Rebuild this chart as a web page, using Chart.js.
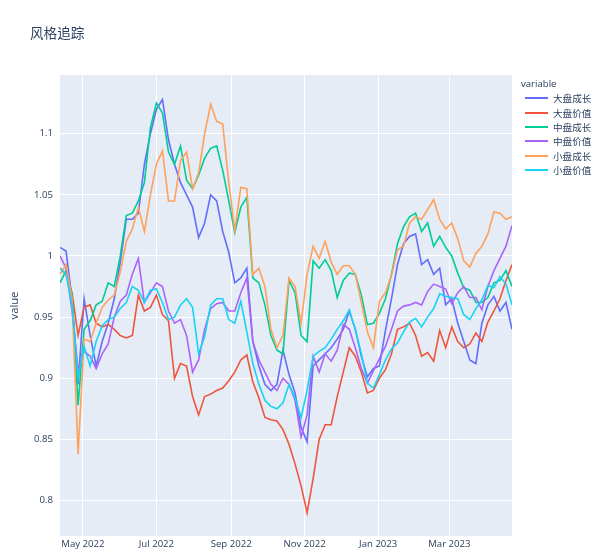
<!DOCTYPE html>
<html>
<head>
<meta charset="utf-8">
<title>风格追踪</title>
<script src="https://cdn.jsdelivr.net/npm/chart.js@4.4.1/dist/chart.umd.min.js"></script>
<style>
  body { margin: 0; background: #fff; }
  #wrap {
    position: relative;
    width: 600px;
    height: 553px;
    font-family: "Open Sans", "Noto Sans CJK SC", sans-serif;
    color: #2a3f5f;
  }
  #chart { position: absolute; left: 0; top: 0; }
  #title { position: absolute; left: 30px; top: 24px; font-size: 13.6px; line-height: 18px; }
  #legend { position: absolute; left: 521px; top: 77px; font-size: 9.6px; }
  .legend-title { height: 14.3px; line-height: 14.3px; }
  .legend-item { display: flex; align-items: center; height: 14.3px; }
  .legend-line { width: 23px; height: 2px; margin: 0 5px 0 4px; }
</style>
</head>
<body>
<div id="wrap">
  <canvas id="chart" width="600" height="553"></canvas>
  <div id="title">风格追踪</div>
  <div id="legend"></div>
</div>
<script>
// sampled every 5 days starting 2022-04-12
const DAY_STEP = 5;

const seriesNames = ["大盘成长", "大盘价值", "中盘成长", "中盘价值", "小盘成长", "小盘价值"];
const seriesColors = ["#636efa", "#EF553B", "#00cc96", "#ab63fa", "#FFA15A", "#19d3f3"];

const bigGrowth = [
  1.007, 1.004, 0.965, 0.895, 0.965, 0.935, 0.91, 0.93, 0.945, 0.965,
  0.995, 1.03, 1.03, 1.035, 1.075, 1.10, 1.12, 1.128, 1.095, 1.075,
  1.06, 1.05, 1.04, 1.015, 1.027, 1.05, 1.045, 1.02, 1.003, 0.978,
  0.982, 0.99, 0.93, 0.91, 0.895, 0.89, 0.895, 0.923, 0.903, 0.888,
  0.86, 0.848, 0.91, 0.915, 0.92, 0.925, 0.932, 0.94, 0.955, 0.94,
  0.918, 0.901, 0.908, 0.91, 0.939, 0.965, 0.993, 1.01, 1.016, 1.018,
  0.993, 0.997, 0.985, 0.99, 0.96, 0.965, 0.945, 0.93, 0.915, 0.912,
  0.945, 0.96, 0.967, 0.955, 0.962, 0.94
];

const bigValue = [
  0.99, 0.985, 0.97, 0.935, 0.958, 0.96, 0.945, 0.942, 0.944, 0.94,
  0.935, 0.933, 0.935, 0.968, 0.955, 0.958, 0.968, 0.952, 0.947, 0.9,
  0.912, 0.91, 0.885, 0.87, 0.885, 0.887, 0.89, 0.892, 0.898, 0.905,
  0.915, 0.919, 0.897, 0.884, 0.868, 0.866, 0.865, 0.858, 0.846, 0.83,
  0.812, 0.79, 0.818, 0.85, 0.862, 0.862, 0.885, 0.905, 0.925, 0.918,
  0.905, 0.888, 0.89, 0.9, 0.907, 0.92, 0.94, 0.942, 0.945, 0.935,
  0.918, 0.921, 0.914, 0.939, 0.925, 0.942, 0.93, 0.925, 0.928, 0.937,
  0.93, 0.946, 0.955, 0.965, 0.98, 0.993
];

const midGrowth = [
  0.978, 0.988, 0.968, 0.878, 0.94, 0.947, 0.96, 0.963, 0.978, 0.975,
  1.0, 1.033, 1.035, 1.045, 1.06, 1.105, 1.125, 1.117, 1.085, 1.075,
  1.09, 1.062, 1.055, 1.066, 1.08, 1.088, 1.09, 1.07, 1.045, 1.019,
  1.04, 1.048, 0.982, 0.978, 0.96, 0.935, 0.923, 0.92, 0.98, 0.97,
  0.935, 0.93, 0.996, 0.99, 0.997, 0.988, 0.966, 0.98, 0.986, 0.985,
  0.968, 0.944, 0.945, 0.953, 0.965, 0.985, 1.01, 1.024, 1.032, 1.035,
  1.02, 1.027, 1.008, 1.016, 1.007, 1.0, 0.986, 0.974, 0.972, 0.962,
  0.962, 0.966, 0.978, 0.98, 0.988, 0.975
];

const midValue = [
  1.0, 0.99, 0.955, 0.907, 0.922, 0.918, 0.908, 0.92, 0.928, 0.95,
  0.963, 0.968, 0.985, 0.998, 0.962, 0.97, 0.978, 0.975, 0.955, 0.945,
  0.948, 0.935, 0.905, 0.915, 0.94, 0.957, 0.961, 0.962, 0.955, 0.955,
  0.97, 0.982, 0.93, 0.915, 0.905, 0.895, 0.89, 0.9, 0.895, 0.882,
  0.852, 0.87, 0.918, 0.905, 0.92, 0.914, 0.923, 0.944, 0.94, 0.925,
  0.908, 0.896, 0.906, 0.916, 0.926, 0.94, 0.955, 0.959, 0.96, 0.962,
  0.96, 0.971, 0.977, 0.975, 0.973, 0.961, 0.97, 0.975, 0.966, 0.966,
  0.956, 0.975, 0.988, 0.998, 1.008, 1.025
];

const smallGrowth = [
  0.985, 0.993, 0.965, 0.838, 0.932, 0.93, 0.945, 0.958, 0.964, 0.968,
  0.987, 1.012, 1.022, 1.04, 1.02, 1.05, 1.075, 1.086, 1.045, 1.045,
  1.078, 1.085, 1.055, 1.068, 1.1, 1.124, 1.11, 1.108, 1.06, 1.021,
  1.056, 1.055, 0.985, 0.99, 0.975, 0.94, 0.925, 0.935, 0.982, 0.975,
  0.945, 0.985, 1.008, 0.998, 1.012, 0.995, 0.985, 0.992, 0.992, 0.985,
  0.962, 0.938, 0.925, 0.963, 0.97, 0.984, 1.005, 1.008, 1.027, 1.032,
  1.03, 1.038, 1.046, 1.03, 1.022, 1.027, 1.014, 0.996, 0.991, 1.002,
  1.008, 1.018, 1.036, 1.035, 1.03, 1.032
];

const smallValue = [
  0.99, 0.985, 0.96, 0.9, 0.926, 0.91, 0.93, 0.943, 0.948, 0.95,
  0.957, 0.962, 0.975, 0.972, 0.962, 0.972, 0.973, 0.962, 0.948, 0.95,
  0.96, 0.965, 0.958, 0.92, 0.934, 0.96, 0.965, 0.965, 0.948, 0.945,
  0.963, 0.938, 0.912, 0.895, 0.882, 0.877, 0.875, 0.88, 0.895, 0.884,
  0.868, 0.89, 0.918, 0.922, 0.925, 0.932, 0.94, 0.947, 0.956, 0.94,
  0.92, 0.896, 0.892, 0.903, 0.915, 0.924, 0.929, 0.938, 0.946, 0.949,
  0.942, 0.95, 0.957, 0.969, 0.967, 0.966, 0.965, 0.952, 0.948, 0.957,
  0.964, 0.976, 0.974, 0.983, 0.977, 0.96
];

const seriesValues = [bigGrowth, bigValue, midGrowth, midValue, smallGrowth, smallValue];

// month ticks, in days after 2022-04-12
const xTickDays = [19, 80, 142, 203, 264, 323];
const xTickLabels = ["May 2022", "Jul 2022", "Sep 2022", "Nov 2022", "Jan 2023", "Mar 2023"];
const X_MAX = 375;

const yTickValues = [0.8, 0.85, 0.9, 0.95, 1, 1.05, 1.1];
const yTickLabels = ["0.8", "0.85", "0.9", "0.95", "1", "1.05", "1.1"];
const Y_MIN = 0.771;
const Y_MAX = 1.148;

const TEXT_COLOR = "#2a3f5f";
const tickFont = { family: '"Open Sans", sans-serif', size: 9.6 };

function buildLegend() {
  const box = document.getElementById("legend");
  box.innerHTML = '<div class="legend-title">variable</div>';
  seriesNames.forEach((name, i) => {
    const row = document.createElement("div");
    row.className = "legend-item";
    row.innerHTML = `<span class="legend-line" style="background:${seriesColors[i]}"></span><span>${name}</span>`;
    box.appendChild(row);
  });
}

const plotBackground = {
  id: "plotBackground",
  beforeDraw(chart) {
    const { ctx, chartArea } = chart;
    ctx.save();
    ctx.fillStyle = "#E5ECF6";
    ctx.fillRect(chartArea.left, chartArea.top, chartArea.width, chartArea.height);
    ctx.restore();
  },
};

function makeChart() {
  const datasets = seriesNames.map((name, i) => ({
    label: name,
    data: seriesValues[i].map((v, k) => ({ x: k * DAY_STEP, y: v })),
    borderColor: seriesColors[i],
    borderWidth: 1.6,
    pointRadius: 0,
    tension: 0,
    fill: false,
    order: seriesNames.length - i,
  }));

  new Chart(document.getElementById("chart"), {
    type: "line",
    data: { datasets },
    plugins: [plotBackground],
    options: {
      responsive: false,
      devicePixelRatio: 1,
      animation: false,
      layout: { padding: { left: 0, top: 75, right: 88, bottom: 0 } },
      plugins: {
        legend: { display: false },
        title: { display: false },
        tooltip: { enabled: false },
      },
      scales: {
        x: {
          type: "linear",
          min: 0,
          max: X_MAX,
          afterBuildTicks(scale) {
            scale.ticks = xTickDays.map((v) => ({ value: v }));
          },
          afterFit(scale) {
            scale.height = 17;
          },
          ticks: {
            callback: (v, i) => xTickLabels[i],
            color: TEXT_COLOR,
            font: tickFont,
            maxRotation: 0,
            autoSkip: false,
            padding: 3,
          },
          grid: { color: "#ffffff", lineWidth: 1, drawTicks: false },
          border: { display: false },
        },
        y: {
          min: Y_MIN,
          max: Y_MAX,
          afterBuildTicks(scale) {
            scale.ticks = yTickValues.map((v) => ({ value: v }));
          },
          afterFit(scale) {
            scale.width = 60;
          },
          ticks: {
            callback: (v, i) => yTickLabels[i],
            color: TEXT_COLOR,
            font: tickFont,
            autoSkip: false,
            padding: 7,
          },
          grid: { color: "#ffffff", lineWidth: 1, drawTicks: false },
          border: { display: false },
          title: {
            display: true,
            text: "value",
            color: TEXT_COLOR,
            font: { family: '"Open Sans", sans-serif', size: 11.2 },
            padding: { top: 8, bottom: 0 },
          },
        },
      },
    },
  });
}

buildLegend();
makeChart();
</script>
</body>
</html>
